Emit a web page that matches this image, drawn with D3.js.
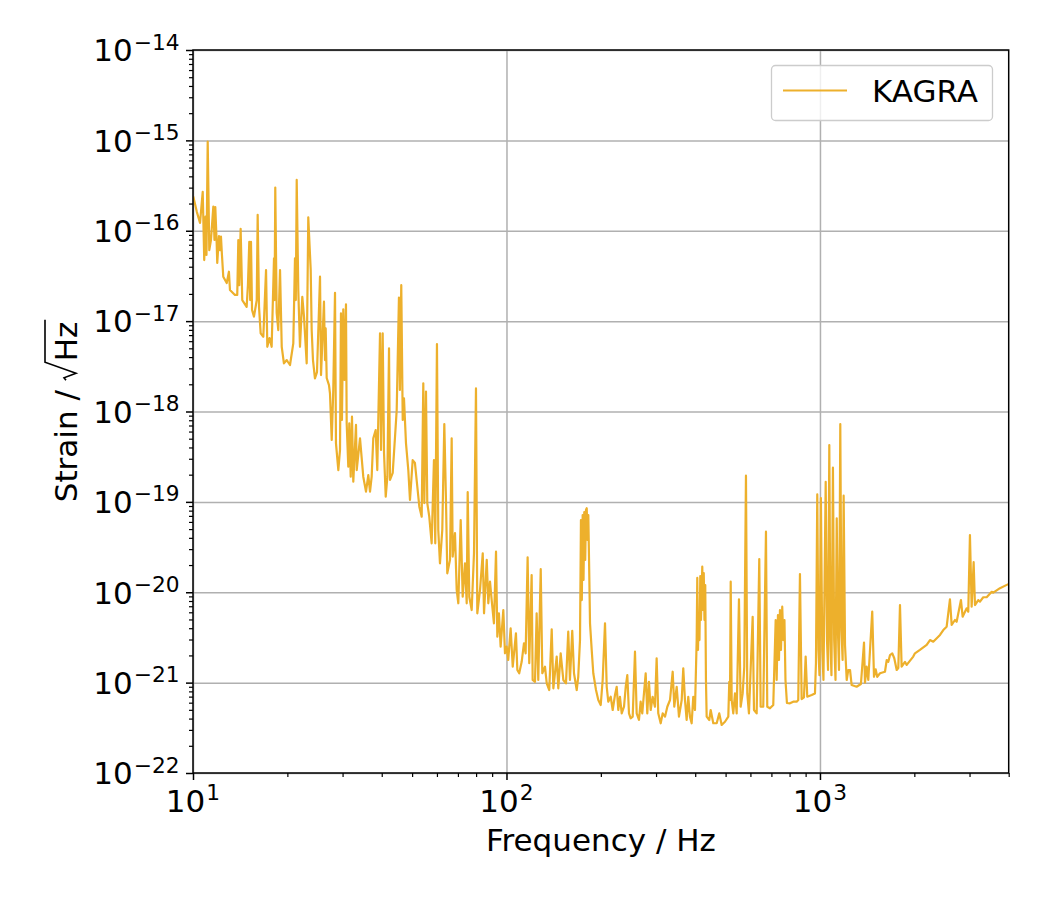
<!DOCTYPE html>
<html><head><meta charset="utf-8">
<script src="https://cdn.jsdelivr.net/npm/d3@7"></script>
<style>body{margin:0;background:#fff} svg{display:block}</style>
</head><body>
<svg id="c" width="1050" height="900"></svg>
<script>
// ---------------- data ----------------
const seriesName = "KAGRA";
const freq = [
10.02,10.28,10.53,10.74,10.86,10.96,11.04,11.14,11.27,11.41,
11.61,11.71,11.78,11.90,11.95,12.10,12.19,12.28,12.37,12.49,
12.81,13.02,13.12,13.61,13.84,13.95,14.05,14.19,14.36,14.83,
14.97,15.12,15.22,15.31,15.43,15.65,15.97,16.08,16.24,16.44,
16.76,17.10,17.26,17.54,17.82,18.13,18.21,18.30,18.49,18.71,
18.95,19.19,19.50,19.91,20.09,20.39,20.89,21.15,21.28,21.42,
21.67,21.94,22.32,22.60,23.05,23.32,23.74,23.91,24.14,24.49,
24.86,25.42,25.61,26.17,26.37,26.50,26.70,27.15,27.35,27.70,
28.02,28.38,28.58,29.08,29.44,29.65,29.86,30.16,30.43,30.76,
30.92,31.29,31.52,31.85,32.15,32.46,33.11,33.28,34.10,34.93,
35.63,36.24,36.70,37.15,37.59,38.26,38.71,39.50,39.79,40.28,
40.68,41.19,41.69,42.20,42.51,43.36,44.10,44.65,45.39,45.71,
46.17,46.67,47.10,47.80,48.62,49.22,50.21,51.05,51.95,52.72,
53.64,54.28,54.68,55.36,55.89,56.71,57.72,58.70,59.27,60.01,
60.59,61.35,62.40,63.34,64.12,64.74,66.04,66.86,67.36,68.51,
69.37,70.20,71.44,72.50,73.73,74.66,75.21,76.09,77.45,78.77,
79.93,80.71,82.33,84.00,84.80,86.50,87.50,88.60,89.70,91.20,
92.60,93.50,94.60,95.80,97.70,98.90,100.1,101.3,103.1,104.7,
107.2,108.3,109.8,111.8,113.7,115.1,116.8,118.2,120.3,121.2,
123.3,124.8,126.3,128.6,130.1,132.7,134.4,136.9,139.4,141.1,
144.6,146.3,148.9,151.8,154.8,157.4,159.4,162.1,164.2,167.5,
169.4,171.6,172.8,173.9,175.0,176.1,177.1,178.3,179.3,180.3,
181.3,182.4,183.6,184.7,187.0,189.2,193.0,196.3,199.8,202.7,
206.2,208.8,211.2,215.0,218.2,221.9,224.7,227.3,230.1,233.1,
237.1,240.1,242.9,245.9,249.0,252.7,257.0,260.2,264.6,267.9,
271.1,278.0,281.3,284.8,288.4,292.6,297.6,301.3,304.9,310.4,
315.0,320.4,325.9,332.4,339.0,343.0,349.1,355.0,362.2,366.4,
371.0,375.6,380.1,384.8,389.7,394.3,399.3,404.3,406.1,408.2,
410.6,412.7,415.2,417.3,421.3,423.5,425.9,428.1,430.6,432.8,
435.1,443.5,448.1,456.8,468.3,477.3,485.8,497.7,510.0,513.7,
516.4,519.1,522.9,529.0,535.7,542.4,551.6,558.5,566.8,573.5,
580.7,586.3,593.6,610.0,615.9,628.2,640.3,646.8,659.3,672.6,
679.0,692.6,709.6,722.3,727.6,734.5,740.0,745.4,750.9,758.0,
763.6,770.4,776.2,784.6,802.2,821.8,842.6,852.6,863.3,874.1,
889.1,900.2,910.9,941.0,963.9,971.0,980.4,989.0,996.3,1007,
1017,1026,1043,1053,1061,1071,1080,1088,1100,1110,
1121,1131,1141,1150,1161,1171,1181,1190,1202,1217,
1231,1247,1262,1309,1351,1382,1392,1409,1426,1468,
1487,1506,1523,1554,1612,1633,1652,1673,1701,1726,
1757,1778,1800,1822,1867,1891,1984,2009,2084,2190,
2244,2298,2415,2474,2536,2598,2631,2695,2729,2817,
2852,2937,2972,3009,3047,3092,3122,3198,3239,3318,
3402,3530,3572,3752,3987
];
const strain = [
2.4e-16,1.63e-16,1.22e-16,2.7e-16,4.74e-17,1.43e-16,5.4e-17,9.7e-16,6.1e-17,7.9e-17,
1.85e-16,7.9e-17,1.83e-16,7.3e-17,4.4e-17,8.75e-17,6.1e-17,8.6e-17,5.4e-17,3.1e-17,
2.64e-17,3.52e-17,2.21e-17,1.95e-17,1.95e-17,7.9e-17,2.5e-17,1.05e-16,1.71e-17,1.44e-17,
2.5e-17,7.56e-17,1.71e-17,7.56e-17,1.33e-17,1.12e-17,1.71e-17,1.5e-16,1.44e-17,7.33e-18,
6.72e-18,3.68e-17,5.2e-18,6.5e-18,5.2e-18,4.96e-17,1.71e-17,3.0e-16,1.23e-17,7.97e-18,
3.68e-17,5.2e-18,3.41e-18,3.71e-18,3.53e-18,3.27e-18,5.68e-18,4.96e-17,1.71e-17,3.65e-16,
2.21e-17,5.2e-18,1.86e-17,1.12e-17,3.41e-18,1.41e-16,3.68e-17,7.97e-18,3.71e-18,2.33e-18,
2.73e-18,3.1e-17,2.53e-18,1.64e-17,3.71e-18,8.3e-18,2.35e-18,1.96e-18,1.59e-18,4.84e-19,
1.73e-18,2.06e-17,4.45e-19,2.25e-19,3.75e-19,1.22e-17,8.05e-19,1.35e-17,2.23e-18,1.53e-17,
7.4e-19,2.45e-19,7.4e-19,1.9e-19,8.76e-19,1.67e-19,7.1e-19,2.25e-19,5.05e-19,1.9e-19,
1.3e-19,1.98e-19,1.3e-19,1.9e-19,5.05e-19,6.24e-19,2.25e-19,7.33e-18,3.75e-19,7.33e-18,
3.47e-19,1.14e-19,1.9e-19,5.0e-18,1.75e-19,2.09e-19,5.26e-19,1.04e-18,1.82e-17,1.73e-18,
2.5e-17,8.05e-19,1.4e-18,4.45e-19,2.25e-19,1.05e-19,2.9e-19,2.69e-19,1.47e-19,8.85e-20,
6.86e-20,2.05e-18,9.7e-20,1.66e-18,9.7e-20,6.86e-20,3.48e-20,2.9e-19,3.48e-20,5.58e-18,
4.89e-20,2.09e-20,4.89e-20,7.27e-19,1.05e-19,1.62e-20,2.28e-20,5.05e-19,2.48e-20,4.5e-20,
1.06e-20,7.55e-21,6.3e-20,8.93e-21,2.09e-20,7.55e-21,1.28e-19,8.93e-21,6.36e-21,2.7e-20,
1.8e-18,5.85e-21,1.06e-20,2.7e-20,5.85e-21,2.28e-20,7.55e-21,1.31e-20,8.2e-21,4.53e-21,
2.81e-20,3.22e-21,5.85e-21,2.5e-21,6.36e-21,2.11e-21,2.5e-21,1.78e-21,3.99e-21,1.5e-21,
3.51e-21,1.38e-21,1.27e-21,1.7e-21,2.72e-21,2.11e-21,2.44e-20,1.64e-21,1.55e-20,1.07e-21,
1.02e-21,5.85e-21,1.07e-21,1.8e-20,1.27e-21,1.5e-21,9.8e-22,8.28e-22,3.89e-21,8.65e-22,
1.94e-21,8.65e-22,2.11e-21,1.07e-21,9.8e-22,3.66e-21,1.07e-21,3.75e-21,1.27e-21,8.28e-22,
1.16e-21,2.96e-21,6.3e-20,8.2e-21,7.16e-20,1.37e-20,7.73e-20,2.28e-20,8.14e-20,8.5e-20,
3.79e-20,7.16e-20,1.76e-20,4.53e-21,2.3e-21,1.27e-21,8.28e-22,6.42e-22,5.65e-22,1.07e-21,
4.53e-21,9.0e-22,6.15e-22,6.98e-22,4.98e-22,7.29e-22,9.0e-22,4.98e-22,6.98e-22,4.57e-22,
5.41e-22,9.0e-22,1.21e-21,4.57e-22,4.03e-22,4.2e-22,2.2e-21,4.57e-22,3.86e-22,6.15e-22,
4.57e-22,1.27e-21,4.57e-22,1.02e-21,4.98e-22,6.98e-22,5.41e-22,1.86e-21,4.57e-22,3.55e-22,
4.57e-22,4.2e-22,5.41e-22,6.42e-22,1.32e-21,5.41e-22,9.0e-22,4.2e-22,6.42e-22,1.44e-21,
6.42e-22,3.86e-22,6.98e-22,4.2e-22,3.55e-22,6.98e-22,4.98e-22,2.96e-21,1.44e-20,2.3e-21,
5.89e-21,2.96e-21,1.51e-20,4.93e-21,1.92e-20,6.36e-21,1.63e-20,4.93e-21,1.2e-20,1.07e-21,
4.2e-22,3.86e-22,4.98e-22,3.55e-22,3.55e-22,4.57e-22,3.4e-22,3.69e-22,4.2e-22,1.02e-21,
6.42e-22,1.31e-20,6.42e-22,4.57e-22,7.6e-22,4.57e-22,8.35e-21,5.41e-22,7.6e-22,1.5e-21,
1.95e-19,7.6e-22,4.57e-22,5.36e-21,4.98e-22,4.57e-22,2.33e-20,5.41e-22,5.41e-22,4.68e-20,
5.41e-22,5.2e-22,5.65e-22,4.93e-21,1.07e-21,5.6e-21,1.78e-21,6.36e-21,2.3e-21,6.92e-21,
2.96e-21,4.93e-21,1.07e-21,5.95e-22,5.9e-22,6.15e-22,6.15e-22,6.42e-22,1.59e-20,6.58e-22,
6.88e-22,1.94e-21,6.98e-22,7.29e-22,7.6e-22,1.65e-21,1.21e-19,2.3e-21,1.21e-21,1.1e-19,
2.3e-21,1.07e-21,1.67e-19,2.96e-21,1.38e-21,4.26e-19,2.96e-21,1.21e-21,2.39e-19,2.96e-21,
1.07e-21,6.58e-20,3.82e-21,1.38e-21,7.27e-19,3.82e-21,1.78e-21,1.17e-19,2.61e-21,1.07e-21,
1.38e-21,1.38e-21,9.4e-22,9.0e-22,9.65e-22,2.77e-21,1.0e-21,1.5e-21,1.07e-21,6.1e-21,
1.16e-21,1.4e-21,1.16e-21,1.27e-21,1.32e-21,1.78e-21,1.7e-21,2.02e-21,2.11e-21,1.86e-21,
1.38e-21,1.45e-21,7.22e-21,1.5e-21,1.7e-21,1.57e-21,1.94e-21,2.11e-21,2.3e-21,2.61e-21,
2.96e-21,2.84e-21,3.37e-21,3.82e-21,4.16e-21,8.35e-21,4.34e-21,4.93e-21,4.72e-21,8.2e-21,
5.36e-21,6.64e-21,6.1e-21,4.3e-20,6.92e-21,2.15e-20,7.22e-21,8.2e-21,7.86e-21,8.8e-21,
8.8e-21,1.01e-20,9.9e-21,1.11e-20,1.23e-20
];
const xDomain = [10, 4000];
const yDomain = [1e-22, 1e-14];
const xTickExponents = [1, 2, 3];
const yTickExponents = [-22, -21, -20, -19, -18, -17, -16, -15, -14];
const xLabel = "Frequency / Hz";
const yLabelPre = "Strain /\u00a0";
const yLabelRad = "Hz";

// ---------------- layout ----------------
const L = 193, R = 1008.7, T = 50, B = 773;
const font = "'DejaVu Sans', sans-serif";
const lineColor = "#edb02c";
const x = d3.scaleLog().domain(xDomain).range([L, R]);
const y = d3.scaleLog().domain(yDomain).range([B, T]);
const svg = d3.select("#c").attr("font-family", font);

const xMajor = xTickExponents.map(e => Math.pow(10, e));
const yMajor = yTickExponents.map(e => Math.pow(10, e));
const xMinor = [], yMinor = [];
for (let e = 1; e <= 3; e++) for (let m = 2; m <= 9; m++) { const v = m * Math.pow(10, e); if (v <= xDomain[1]) xMinor.push(v); }
for (let e = -22; e < -14; e++) for (let m = 2; m <= 9; m++) yMinor.push(m * Math.pow(10, e));

// grid
const gridX = svg.append("g").attr("transform", `translate(0,${B})`)
  .call(d3.axisBottom(x).tickValues(xMajor).tickSize(-(B - T)).tickFormat(""));
const gridY = svg.append("g").attr("transform", `translate(${L},0)`)
  .call(d3.axisLeft(y).tickValues(yMajor).tickSize(-(R - L)).tickFormat(""));
[gridX, gridY].forEach(g => {
  g.select(".domain").remove();
  g.selectAll("line").attr("stroke", "#b0b0b0").attr("stroke-width", 1.5);
});

// clip + curve
svg.append("clipPath").attr("id", "clip").append("rect")
  .attr("x", L).attr("y", T).attr("width", R - L).attr("height", B - T);
const pts = freq.map((f, i) => [f, strain[i]]).filter(d => d[1] !== undefined);
svg.append("path").datum(pts).attr("clip-path", "url(#clip)")
  .attr("fill", "none").attr("stroke", lineColor).attr("stroke-width", 2.2)
  .attr("stroke-linejoin", "round")
  .attr("d", d3.line().x(d => x(d[0])).y(d => y(d[1])));

// axis ticks (major + minor)
function styleAxis(g, w) { g.select(".domain").remove(); g.selectAll("line").attr("stroke", "#000").attr("stroke-width", w); }
svg.append("g").attr("transform", `translate(0,${B})`)
  .call(d3.axisBottom(x).tickValues(xMajor).tickSize(7).tickFormat("")).call(g => styleAxis(g, 1.5));
svg.append("g").attr("transform", `translate(0,${B})`)
  .call(d3.axisBottom(x).tickValues(xMinor).tickSize(4).tickFormat("")).call(g => styleAxis(g, 1.2));
svg.append("g").attr("transform", `translate(${L},0)`)
  .call(d3.axisLeft(y).tickValues(yMajor).tickSize(7).tickFormat("")).call(g => styleAxis(g, 1.5));
svg.append("g").attr("transform", `translate(${L},0)`)
  .call(d3.axisLeft(y).tickValues(yMinor).tickSize(4).tickFormat("")).call(g => styleAxis(g, 1.2));

// frame
svg.append("rect").attr("x", L).attr("y", T).attr("width", R - L).attr("height", B - T)
  .attr("fill", "none").attr("stroke", "#000").attr("stroke-width", 1.5);

// tick labels
const tfs = 31, sfs = 21.7;
function expLabel(g, px, py, e, anchor) {
  const t = g.append("text").attr("x", px).attr("y", py).attr("text-anchor", anchor).attr("fill", "#000");
  t.append("tspan").attr("font-size", tfs).text("10");
  t.append("tspan").attr("font-size", sfs).attr("dy", -11.7).attr("dx", 1).text(String(e).replace("-", "\u2212"));
}
const labG = svg.append("g");
xTickExponents.forEach(e => expLabel(labG, x(Math.pow(10, e)), 811.7, e, "middle"));
yTickExponents.forEach(e => expLabel(labG, 179.5, y(Math.pow(10, e)) + 11.3, e, "end"));

// x label
svg.append("text").attr("x", (L + R) / 2).attr("y", 851).attr("text-anchor", "middle")
  .attr("font-size", 31).attr("fill", "#000").text(xLabel);

// y label with radical
const gl = svg.append("g").attr("transform", `translate(77,${(T + B) / 2}) rotate(-90)`);
const t1 = gl.append("text").attr("font-size", 31).attr("fill", "#000").text(yLabelPre);
const t2 = gl.append("text").attr("font-size", 31).attr("fill", "#000").text(yLabelRad);
const w1 = t1.node().getComputedTextLength();
const w2 = t2.node().getComputedTextLength();
const radW = 18;
const total = w1 + radW + w2 + 2;
const u0 = -total / 2;
t1.attr("x", u0);
const ru = u0 + w1;
t2.attr("x", ru + radW + 1);
gl.append("path")
  .attr("d", `M${ru},${-11} L${ru + 2.5},${-13} L${ru + 7},${-1} L${ru + radW},${-32} L${ru + radW + w2 + 3},${-32}`)
  .attr("fill", "none").attr("stroke", "#000").attr("stroke-width", 1.6).attr("stroke-linejoin", "miter");

// legend
const lg = svg.append("g");
lg.append("rect").attr("x", 771.5).attr("y", 65.5).attr("width", 221).attr("height", 55).attr("rx", 4)
  .attr("fill", "#fff").attr("fill-opacity", 0.8).attr("stroke", "#cccccc").attr("stroke-width", 1.3);
lg.append("line").attr("x1", 783).attr("x2", 847).attr("y1", 90.5).attr("y2", 90.5)
  .attr("stroke", lineColor).attr("stroke-width", 2);
lg.append("text").attr("x", 872).attr("y", 101.5).attr("font-size", 31).attr("fill", "#000").text(seriesName);
</script>
</body></html>
